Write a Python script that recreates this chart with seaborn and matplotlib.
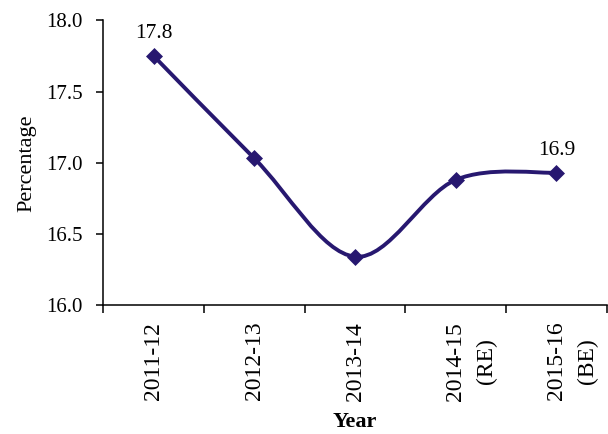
import numpy as np
import pandas as pd
import seaborn as sns
from matplotlib import pyplot as plt
from matplotlib.path import Path
from matplotlib.patches import PathPatch

years = ["2011-12", "2012-13", "2013-14", "2014-15", "2015-16"]
year_notes = ["", "", "", "(RE)", "(BE)"]
percentage = [17.75, 17.03, 16.34, 16.88, 16.93]
point_labels = ["17.8", "", "", "", "16.9"]

LINE_COLOR = "#271870"

sns.set_style("ticks")
plt.rcParams["font.family"] = ["Liberation Serif", "DejaVu Serif"]
plt.rcParams["font.size"] = 15
plt.rcParams["text.color"] = "black"
plt.rcParams["axes.labelcolor"] = "black"
plt.rcParams["xtick.color"] = "black"
plt.rcParams["ytick.color"] = "black"
plt.rcParams["axes.edgecolor"] = "black"

df = pd.DataFrame({"year": years, "pos": np.arange(len(years)), "percentage": percentage})


def smooth_path(xs, ys):
    # Excel-like smoothed line: cubic Bezier segments with Catmull-Rom tangents
    pts = np.column_stack([xs, ys]).astype(float)
    ext = np.vstack([pts[0], pts, pts[-1]])
    verts = [pts[0]]
    codes = [Path.MOVETO]
    for i in range(len(pts) - 1):
        p0, p1, p2, p3 = ext[i], ext[i + 1], ext[i + 2], ext[i + 3]
        c1 = p1 + (p2 - p0) / 6.0
        c2 = p2 - (p3 - p1) / 6.0
        verts += [c1, c2, p2]
        codes += [Path.CURVE4] * 3
    return Path(verts, codes)


fig = plt.figure(figsize=(6.08, 4.34), dpi=100)
ax = fig.add_axes([0.170, 0.297, 0.828, 0.656])

ax.add_patch(PathPatch(smooth_path(df["pos"], df["percentage"]), facecolor="none",
                       edgecolor=LINE_COLOR, linewidth=2.8, zorder=2))
sns.scatterplot(data=df, x="pos", y="percentage", marker="D", s=75, color=LINE_COLOR,
                edgecolor=LINE_COLOR, linewidth=0, zorder=3, ax=ax)

for x, y, lab in zip(df["pos"], df["percentage"], point_labels):
    if lab:
        ax.annotate(lab, (x, y), xytext=(0, 16), textcoords="offset points",
                    ha="center", va="center", fontsize=15.5)

ax.set_xlim(-0.5, len(years) - 0.5)
ax.set_ylim(16.0, 18.0)
ax.set_yticks(np.arange(16.0, 18.01, 0.5))
ax.set_yticklabels([f"{v:.1f}" for v in np.arange(16.0, 18.01, 0.5)])

# category ticks sit between the categories, labels at category centres
ax.set_xticks(np.arange(-0.5, len(years), 1.0))
ax.set_xticklabels([])
ax.set_xticks(df["pos"], minor=True)
ax.set_xticklabels(years, minor=True, rotation=90, ha="center", va="top", fontsize=17)
ax.tick_params(axis="x", which="minor", length=0, pad=12)
ax.tick_params(axis="x", which="major", length=6, width=1.1, direction="out")
ax.tick_params(axis="y", length=5, width=1.1, direction="out", pad=10)

for x, note in zip(df["pos"], year_notes):
    if note:
        ax.annotate(note, (x, 0), xycoords=("data", "axes fraction"), xytext=(22, -40),
                    textcoords="offset points", rotation=90, ha="center", va="center",
                    fontsize=17)

ax.set_xlabel("Year", fontweight="bold", fontsize=16, labelpad=8)
ax.set_ylabel("Percentage", fontsize=16, labelpad=7)

sns.despine(ax=ax)
for side in ["left", "bottom"]:
    ax.spines[side].set_linewidth(1.1)

fig.savefig("out.png", dpi=100)
